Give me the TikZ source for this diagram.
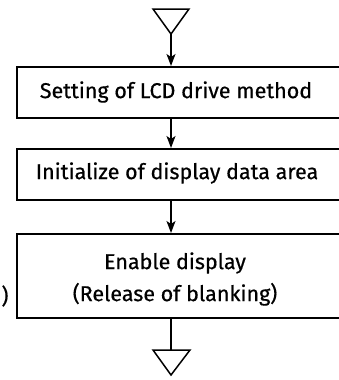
\documentclass[tikz,border=0pt]{standalone}
\usepackage{fontspec}
\setmainfont{Fira Sans}[FakeBold=0.5]
\usetikzlibrary{arrows.meta}
\begin{document}
\begin{tikzpicture}[x=1pt,y=-1pt,
  boxst/.style={draw,line width=1.8pt,minimum height=51pt,minimum width=360pt,anchor=north west,inner sep=0pt},
  txt/.style={font=\fontsize{21.5}{32}\selectfont,inner sep=0pt,align=center},
  flow/.style={line width=1.5pt,-{Stealth[length=12pt,width=9pt,inset=3pt]}},
  plain/.style={line width=1.5pt},
  tri/.style={line width=1.5pt,line join=miter}]
\useasboundingbox (0,0) rectangle (339,380);
\clip (0,0) rectangle (339,380);
% top triangle
\draw[tri] (153,9) -- (189,9) -- (171,34) -- cycle;
\coordinate (t1) at (171,34);
% boxes
\node[boxst] (b1) at (16,66) {};
\node[boxst] (b2) at (16,148) {};
\node[boxst,minimum height=84pt] (b3) at (16,233) {};
\node[txt] (l1) at (176,92) {Setting of LCD drive method};
\node[txt] (l2) at (177,173) {Initialize of display data area};
\node[txt] (l3) at (175,279) {Enable display\\(Release of blanking)};
\node[txt] (p) at (5,296) {)};
% bottom triangle
\draw[tri] (153,350) -- (190,350) -- (171,375) -- cycle;
\coordinate (t2) at (171,350);
% connectors
\draw[flow] (t1) -- (t1 |- b1.north);
\draw[flow] (t1 |- b1.south) -- (t1 |- b2.north);
\draw[flow] (t1 |- b2.south) -- (t1 |- b3.north);
\draw[plain] (t1 |- b3.south) -- (t2);
\end{tikzpicture}
\end{document}
